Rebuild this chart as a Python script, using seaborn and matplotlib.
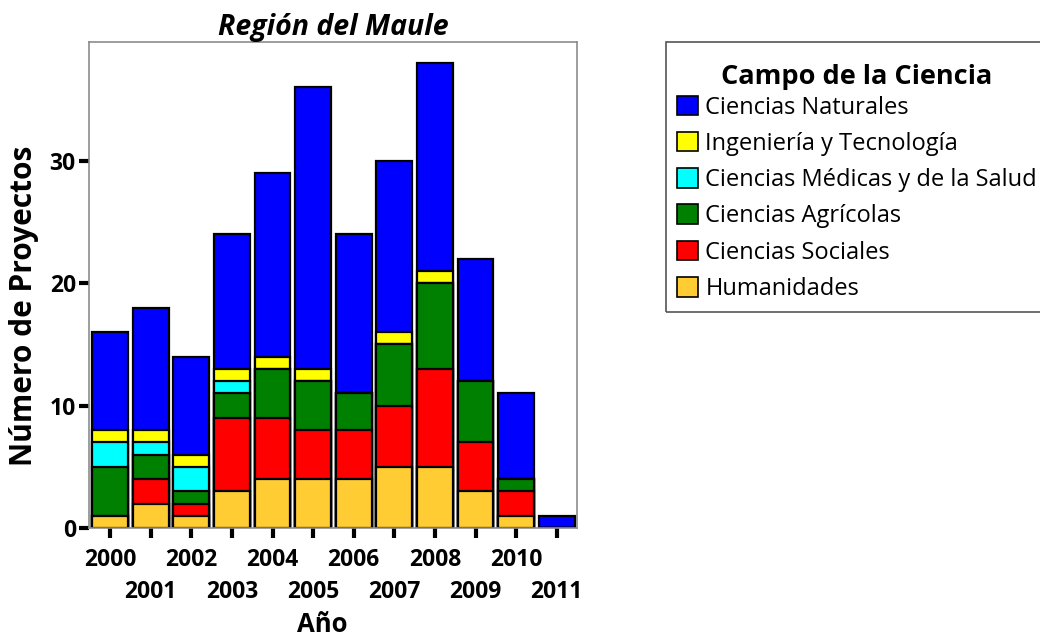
import matplotlib
matplotlib.use("Agg")
import matplotlib.pyplot as plt
from matplotlib.patches import Patch, Rectangle
import seaborn as sns
import pandas as pd
import numpy as np

years = ["2000", "2001", "2002", "2003", "2004", "2005", "2006", "2007", "2008", "2009", "2010", "2011"]
humanidades = [1, 2, 1, 3, 4, 4, 4, 5, 5, 3, 1, 0]
sociales = [0, 2, 1, 6, 5, 4, 4, 5, 8, 4, 2, 0]
agricolas = [4, 2, 1, 2, 4, 4, 3, 5, 7, 5, 1, 0]
medicas = [2, 1, 2, 1, 0, 0, 0, 0, 0, 0, 0, 0]
ingenieria = [1, 1, 1, 1, 1, 1, 0, 1, 1, 0, 0, 0]
naturales = [8, 10, 8, 11, 15, 23, 13, 14, 17, 10, 7, 1]

series_names = ["Humanidades", "Ciencias Sociales", "Ciencias Agrícolas",
                "Ciencias Médicas y de la Salud", "Ingeniería y Tecnología", "Ciencias Naturales"]
series_vals = [humanidades, sociales, agricolas, medicas, ingenieria, naturales]
colors = ["#FFCC33", "#FF0000", "#008000", "#00FFFF", "#FFFF00", "#0000FF"]

sns.set_theme(style="white")
plt.rcParams["font.family"] = ["Open Sans", "DejaVu Sans"]
plt.rcParams["text.color"] = "black"
plt.rcParams["axes.labelcolor"] = "black"
plt.rcParams["xtick.color"] = "black"
plt.rcParams["ytick.color"] = "black"

W, H = 1040, 639
fig = plt.figure(figsize=(W / 100, H / 100), dpi=100)
ax = fig.add_axes([89/W, 111/H, 488/W, 486/H])

cum = np.cumsum(np.array(series_vals), axis=0)
# draw from top (full stack) to bottom so lower segments overlay
for i in range(len(series_names) - 1, -1, -1):
    df = pd.DataFrame({"Año": years, "valor": cum[i]})
    sns.barplot(data=df, x="Año", y="valor", order=years, color=colors[i],
                saturation=1, width=0.885, edgecolor="black", linewidth=1.6, ax=ax)

ax.set_xlim(-0.52, 11.5)
ax.set_ylim(0, 39.7)
ax.set_yticks([0, 10, 20, 30])
ax.set_yticklabels(["0", "10", "20", "30"], fontsize=16.5, fontweight="bold")
ax.set_xticks(range(len(years)))
ax.set_xticklabels(years, fontsize=16.5, fontweight="bold")
ax.tick_params(axis="both", direction="out", length=7.5, width=3, color="black",
               bottom=True, left=True)
ax.tick_params(axis="y", pad=2)
for k, t in enumerate(ax.xaxis.get_major_ticks()):
    t.set_pad(7 if k % 2 == 0 else 30)
for s in ax.spines.values():
    s.set_color("#8c8c8c")
    s.set_linewidth(1.2)

ax.set_xlabel("Año", fontsize=18.5, fontweight="bold", va="center")
ax.xaxis.set_label_coords((322 - 89) / 488, (528 - 625) / 486)
ax.set_ylabel("Número de Proyectos", fontsize=21.5, fontweight="bold", va="center")
ax.yaxis.set_label_coords((24 - 89) / 488, (528 - 306) / 486)
ax.set_title("Región del Maule", fontsize=20.5, fontweight="bold", style="italic", pad=5)

handles = [Patch(facecolor=colors[i], edgecolor="black", linewidth=1.2, label=series_names[i])
           for i in range(len(series_names) - 1, -1, -1)]
leg = fig.legend(handles=handles, loc="upper left", bbox_to_anchor=(677/W, 1 - 64/H),
                 title="Campo de la Ciencia", fontsize=17, title_fontproperties={"weight": "bold", "size": 19.5},
                 frameon=False, handlelength=0.9, handleheight=0.9,
                 handletextpad=0.3, labelspacing=0.52, borderpad=0, borderaxespad=0)
leg._legend_box.sep = 4
fig.add_artist(Rectangle((666/W, 1 - 312/H), 400/W, 270/H, transform=fig.transFigure,
                         fill=False, edgecolor="#555555", linewidth=1.2, clip_on=False))

fig.savefig("out.png", dpi=100)
